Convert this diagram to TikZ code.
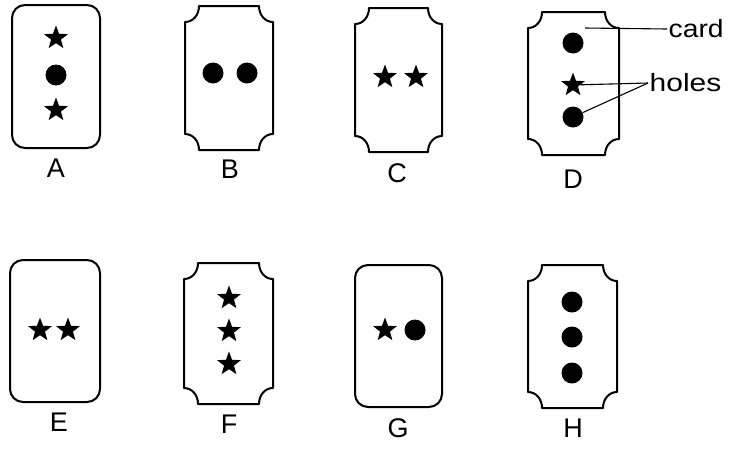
\documentclass[tikz,border=0pt]{standalone}
\usepackage{fontspec}
\setmainfont{Liberation Sans}
\usetikzlibrary{shapes.geometric}
\newcommand\notchcard[4]{%
  \draw[cardline] (#1+14,#2) -- (#3-14,#2)
    .. controls (#3-14,#2+9) and (#3-8,#2+16) .. (#3,#2+16)
    -- (#3,#4-16)
    .. controls (#3-8,#4-16) and (#3-14,#4-9) .. (#3-14,#4)
    -- (#1+14,#4)
    .. controls (#1+14,#4-9) and (#1+8,#4-16) .. (#1,#4-16)
    -- (#1,#2+16)
    .. controls (#1+8,#2+16) and (#1+14,#2+9) .. (#1+14,#2) -- cycle;}
\begin{document}
\begin{tikzpicture}[x=1pt,y=-1pt,
  cardline/.style={line width=2pt, line join=round},
  roundcard/.style={cardline, rounded corners=13pt},
  starhole/.style={star, star points=5, star point ratio=2.4, fill=black, minimum size=25pt, inner sep=0pt},
  dothole/.style={circle, fill=black, minimum size=21pt, inner sep=0pt},
  lab/.style={font=\fontsize{27}{27}\selectfont, inner sep=0pt},
  callout/.style={line width=1.1pt},
  calltext/.style={font=\fontsize{25}{25}\selectfont, inner sep=1.5pt, anchor=west}]
\useasboundingbox[fill=white] (0,0) rectangle (736,451);
% cards
\draw[roundcard] (12,5) rectangle (100,148);
\notchcard{185}{6}{273}{150}
\notchcard{355}{8}{442}{152}
\notchcard{528}{12}{619}{155}
\draw[roundcard] (10,260) rectangle (100,402);
\notchcard{184}{263}{273}{404}
\draw[roundcard] (355,265) rectangle (442,407);
\notchcard{528}{265}{617}{408}
% holes
\node[starhole] (A1) at (56,38) {};
\node[dothole] (A2) at (56,75) {};
\node[starhole] (A3) at (56,110) {};
\node[dothole] (B1) at (213,73) {};
\node[dothole] (B2) at (247,73) {};
\node[starhole] (C1) at (385,77) {};
\node[starhole] (C2) at (416,77) {};
\node[dothole] (D1) at (573,43) {};
\node[starhole] (D2) at (573,85) {};
\node[dothole] (D3) at (573,117) {};
\node[starhole] (E1) at (40,330) {};
\node[starhole] (E2) at (68,330) {};
\node[starhole] (F1) at (229,298) {};
\node[starhole] (F2) at (229,331) {};
\node[starhole] (F3) at (229,364) {};
\node[starhole] (G1) at (385,330) {};
\node[dothole] (G2) at (415,330) {};
\node[dothole] (H1) at (572,302) {};
\node[dothole] (H2) at (572,337) {};
\node[dothole] (H3) at (572,373) {};
% labels
\node[lab] (lA) at (56,168) {A};
\node[lab] (lB) at (230,169) {B};
\node[lab] (lC) at (397,173) {C};
\node[lab] (lD) at (573,179) {D};
\node[lab] (lE) at (59,422) {E};
\node[lab] (lF) at (229,424) {F};
\node[lab] (lG) at (398,428) {G};
\node[lab] (lH) at (573,428) {H};
% callouts
\coordinate (cardpt) at (585,28);
\node[calltext] (card) at (667,29) {\scalebox{1.13}[1]{card}};
\node[calltext] (holes) at (648,83) {\scalebox{1.2}[1]{holes}};
\draw[callout] (cardpt) -- (card.west);
\draw[callout] (D2) -- (holes.west);
\draw[callout] (D3) -- (holes.west);
\end{tikzpicture}
\end{document}
